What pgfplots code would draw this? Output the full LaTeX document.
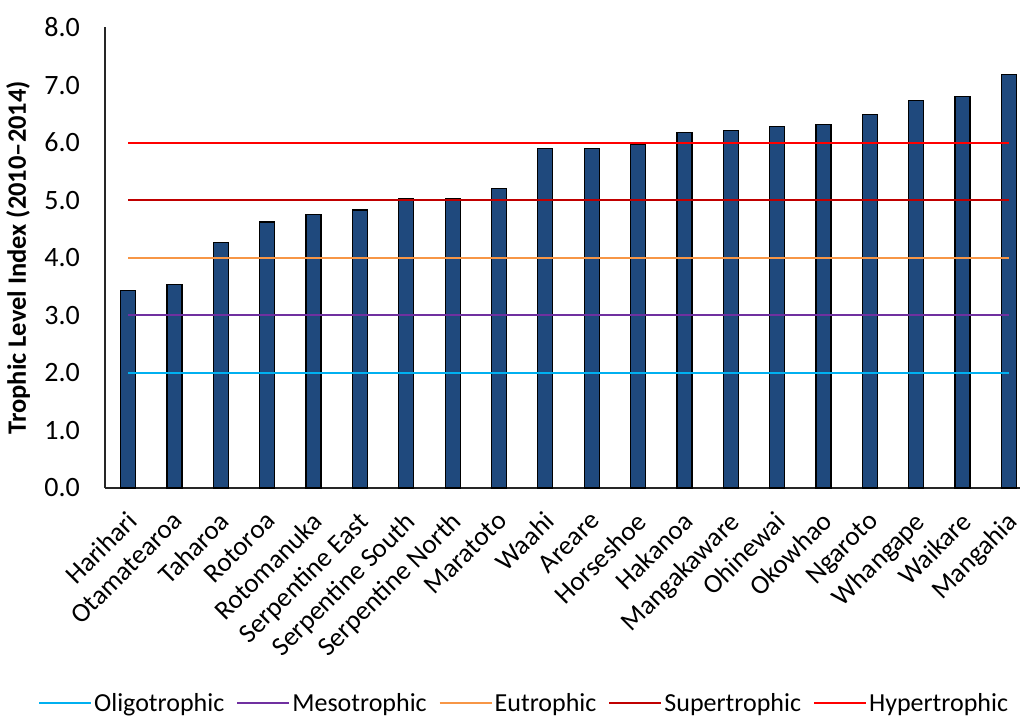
\documentclass[border=0pt]{standalone}
\usepackage{fontspec}
\setmainfont{Carlito}
\usepackage{pgfplots}
\pgfplotsset{compat=1.18}
\definecolor{barblue}{RGB}{31,73,125}
\definecolor{oligo}{RGB}{0,176,240}
\definecolor{meso}{RGB}{112,48,160}
\definecolor{eutro}{RGB}{247,150,70}
\definecolor{supert}{RGB}{192,0,0}
\definecolor{hypert}{RGB}{255,0,0}
\begin{document}
\begin{tikzpicture}
\useasboundingbox (0,0) rectangle (1022pt,718pt);
\begin{axis}[
  at={(105pt,230pt)}, anchor=south west,
  scale only axis, width=915pt, height=460.5pt,
  xmin=-0.5, xmax=19.24, ymin=0, ymax=8,
  axis x line=bottom, axis y line=left,
  axis line style={-, black!85, line width=1.3pt},
  major tick length=0pt,
  xtick={0,...,19},
  xticklabels={Harihari,Otamatearoa,Taharoa,Rotoroa,Rotomanuka,Serpentine East,Serpentine South,Serpentine North,Maratoto,Waahi,Areare,Horseshoe,Hakanoa,Mangakaware,Ohinewai,Okowhao,Ngaroto,Whangape,Waikare,Mangahia},
  ytick={0,1,...,8},
  /pgf/number format/fixed, /pgf/number format/fixed zerofill,
  /pgf/number format/precision=1, /pgf/number format/assume math mode=true,
  yticklabel style={font=\fontsize{28}{32}\selectfont, anchor=east, inner sep=0pt, xshift=-25pt},
  xticklabel style={font=\fontsize{27}{32}\selectfont, xshift=-3pt, yshift=-22pt, rotate=45, anchor=north east, inner sep=0pt},
  ylabel={Trophic Level Index (2010–2014)},
  ylabel style={font=\fontsize{26.5}{30}\selectfont\bfseries, at={(axis description cs:-0.095,0.5)}, anchor=center},
  legend style={at={(axis description cs:0.458,-0.467)}, anchor=center, draw=none, fill=none,
    font=\fontsize{26}{30}\selectfont, legend columns=5,
    /tikz/every even column/.append style={column sep=10pt}},
  legend image code/.code={\draw[#1] (0pt,0pt) -- (52pt,0pt);},
]
\addplot[ybar, bar width=15pt, fill=barblue, draw=black, line width=1.2pt, forget plot] coordinates {
(0,3.43) (1,3.53) (2,4.26) (3,4.62) (4,4.75) (5,4.83) (6,5.03) (7,5.03) (8,5.20) (9,5.90)
(10,5.90) (11,5.97) (12,6.17) (13,6.21) (14,6.28) (15,6.31) (16,6.49) (17,6.73) (18,6.80) (19,7.18)};
\addplot[oligo, line width=2pt] coordinates {(0,2) (19,2)};
\addlegendentry{Oligotrophic}
\addplot[meso, line width=2pt] coordinates {(0,3) (19,3)};
\addlegendentry{Mesotrophic}
\addplot[eutro, line width=2pt] coordinates {(0,4) (19,4)};
\addlegendentry{Eutrophic}
\addplot[supert, line width=2pt] coordinates {(0,5) (19,5)};
\addlegendentry{Supertrophic}
\addplot[hypert, line width=2pt] coordinates {(0,6) (19,6)};
\addlegendentry{Hypertrophic}
\end{axis}
\end{tikzpicture}
\end{document}
